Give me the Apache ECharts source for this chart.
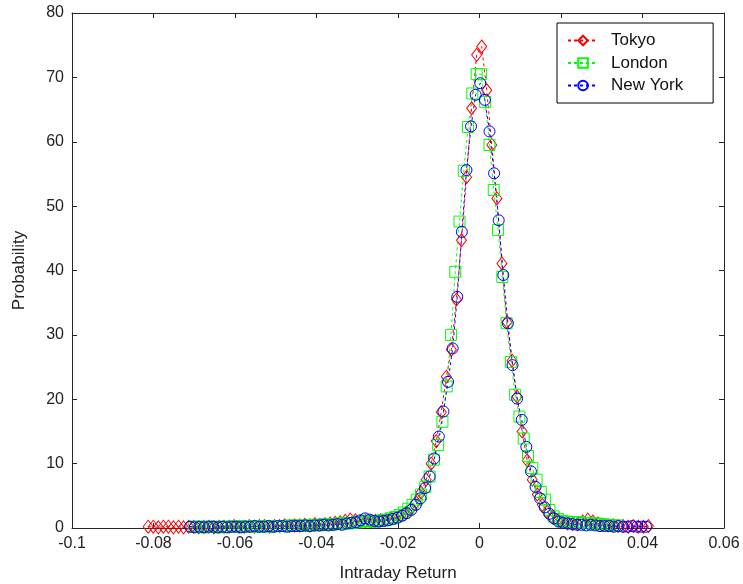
<!DOCTYPE html>
<html>
<head>
<meta charset="utf-8">
<script src="https://cdn.jsdelivr.net/npm/echarts@6/dist/echarts.min.js"></script>
<style>
  html, body { margin: 0; padding: 0; background: #fff; }
  #main { width: 743px; height: 584px; }
</style>
</head>
<body>
<div id="main"></div>
<script>
// histogram bins: first bin centre and bin width for each market
var tokyoStart = -0.0813, tokyoStep = 0.00124;
var londonStart = -0.0700, londonStep = 0.00105;
var nyStart = -0.0710, nyStep = 0.00113;

var tokyoValues = [
    0.2, 0.2, 0.1, 0.2, 0.2, 0.1, 0.2, 0.1, 0.2, 0.2,
    0.1, 0.2, 0.2, 0.1, 0.2, 0.2, 0.2, 0.3, 0.2, 0.2,
    0.3, 0.2, 0.3, 0.3, 0.2, 0.3, 0.3, 0.4, 0.3, 0.4,
    0.4, 0.5, 0.4, 0.6, 0.5, 0.6, 0.7, 0.8, 0.9, 1.1,
    1.3, 1.2, 1.0, 1.1, 1.0, 1.1, 1.2, 1.3, 1.5, 1.6,
    1.9, 2.3, 3.0, 4.0, 5.5, 7.5, 10.0, 13.5, 18.0, 23.5,
    27.7, 35.5, 44.7, 54.5, 65.2, 73.5, 74.8, 68.0, 59.5, 51.2,
    41.1, 32.0, 26.0, 20.4, 15.0, 10.5, 7.5, 5.2, 3.6, 2.5,
    1.7, 1.2, 0.9, 0.7, 0.6, 0.6, 1.0, 1.3, 1.0, 0.7,
    0.5, 0.4, 0.4, 0.3, 0.3, 0.2, 0.3, 0.2, 0.2, 0.3
];
var londonValues = [
    0.2, 0.2, 0.1, 0.2, 0.2, 0.2, 0.1, 0.2, 0.2, 0.2,
    0.2, 0.3, 0.2, 0.2, 0.3, 0.2, 0.3, 0.3, 0.2, 0.3,
    0.3, 0.3, 0.4, 0.3, 0.4, 0.4, 0.3, 0.4, 0.5, 0.4,
    0.5, 0.6, 0.5, 0.6, 0.7, 0.8, 0.7, 0.8, 0.9, 1.0,
    1.1, 1.0, 1.0, 1.1, 1.2, 1.3, 1.5, 1.7, 2.0, 2.4,
    3.0, 3.6, 4.4, 5.2, 6.4, 8.0, 10.6, 12.9, 16.5, 22.0,
    30.0, 39.8, 47.6, 55.5, 62.3, 67.5, 70.5, 70.5, 66.2, 59.5,
    52.5, 46.3, 39.0, 31.8, 25.8, 20.7, 17.3, 13.9, 11.2, 9.3,
    7.5, 5.6, 4.4, 2.8, 1.8, 1.4, 1.1, 1.0, 0.9, 0.9,
    0.9, 0.8, 0.8, 0.7, 0.7, 0.6, 0.5, 0.5, 0.4, 0.4
];
var nyValues = [
    0.2, 0.1, 0.2, 0.1, 0.2, 0.2, 0.1, 0.2, 0.1, 0.2,
    0.2, 0.1, 0.2, 0.2, 0.3, 0.2, 0.2, 0.3, 0.2, 0.3,
    0.3, 0.2, 0.3, 0.3, 0.3, 0.4, 0.3, 0.4, 0.4, 0.5,
    0.4, 0.5, 0.6, 0.5, 0.7, 0.8, 0.9, 1.2, 1.5, 1.3,
    1.1, 1.0, 1.1, 1.2, 1.4, 1.6, 1.9, 2.3, 2.8, 3.6,
    4.6, 6.2, 8.0, 10.8, 14.2, 18.1, 22.7, 27.9, 35.9, 46.0,
    55.6, 62.4, 67.3, 69.1, 66.5, 61.6, 55.1, 47.8, 39.3, 31.8,
    25.3, 20.1, 16.8, 12.6, 8.8, 6.4, 4.6, 3.2, 2.2, 1.5,
    1.0, 0.8, 0.7, 0.6, 0.5, 0.5, 0.4, 0.5, 0.4, 0.3,
    0.3, 0.3, 0.2, 0.3, 0.2, 0.2, 0.3, 0.2, 0.2, 0.2
];

var xTicks = { min: -0.1, max: 0.06, interval: 0.02 };
var yTicks = { min: 0, max: 80, interval: 10 };

var font = 'Liberation Sans';
var axisColor = '#262626';

function bins(start, step, values) {
    var out = [];
    for (var i = 0; i < values.length; i++) {
        out.push([start + i * step, values[i]]);
    }
    return out;
}

function makeSeries(name, color, symbol, size, data) {
    return {
        name: name,
        type: 'line',
        data: data,
        symbol: symbol,
        symbolSize: size,
        showAllSymbol: true,
        lineStyle: { color: color, width: 1, type: [3, 3] },
        itemStyle: { color: 'rgba(255,255,255,0)', borderColor: color, borderWidth: 1 },
        emphasis: { disabled: true }
    };
}

var myChart = echarts.init(document.getElementById('main'));

function tickFmt(v) {
    var r = +v.toFixed(2);
    return r === 0 ? '0' : String(r);
}

var option = {
    animation: false,
    backgroundColor: '#fff',
    grid: { left: 72, right: 19, top: 13, bottom: 56, outerBoundsMode: 'none' },
    legend: {
        left: 557, top: 23,
        orient: 'vertical',
        backgroundColor: '#fff',
        borderColor: '#000',
        borderWidth: 1,
        padding: [9, 30, 9, 10],
        itemWidth: 30,
        itemHeight: 12,
        itemGap: 5.5,
        textStyle: { fontFamily: font, fontSize: 17, color: '#111', padding: [0, 0, 0, 8] },
        data: ['Tokyo', 'London', 'New York']
    },
    xAxis: [{
        type: 'value',
        min: xTicks.min, max: xTicks.max, interval: xTicks.interval,
        name: 'Intraday Return',
        nameLocation: 'middle',
        nameGap: 37,
        nameTextStyle: { fontFamily: font, fontSize: 17, color: '#222' },
        axisLine: { onZero: false, lineStyle: { color: axisColor, width: 1 } },
        axisTick: { inside: true, length: 5, lineStyle: { color: axisColor } },
        axisLabel: { fontFamily: font, fontSize: 16, color: '#222', margin: 8, formatter: tickFmt },
        splitLine: { show: false }
    }, {
        type: 'value', position: 'top',
        min: xTicks.min, max: xTicks.max, interval: xTicks.interval,
        axisLine: { onZero: false, lineStyle: { color: axisColor, width: 1 } },
        axisTick: { inside: true, length: 5, lineStyle: { color: axisColor } },
        axisLabel: { show: false },
        splitLine: { show: false }
    }],
    yAxis: [{
        type: 'value',
        min: yTicks.min, max: yTicks.max, interval: yTicks.interval,
        name: 'Probability',
        nameLocation: 'middle',
        nameGap: 44,
        nameTextStyle: { fontFamily: font, fontSize: 17, color: '#222' },
        axisLine: { show: true, onZero: false, lineStyle: { color: axisColor, width: 1 } },
        axisTick: { show: true, inside: true, length: 5, lineStyle: { color: axisColor } },
        axisLabel: { fontFamily: font, fontSize: 16, color: '#222', margin: 8 },
        splitLine: { show: false }
    }, {
        type: 'value', position: 'right',
        min: yTicks.min, max: yTicks.max, interval: yTicks.interval,
        axisLine: { show: true, onZero: false, lineStyle: { color: axisColor, width: 1 } },
        axisTick: { show: true, inside: true, length: 5, lineStyle: { color: axisColor } },
        axisLabel: { show: false },
        splitLine: { show: false }
    }],
    series: [
        makeSeries('Tokyo', '#ff0000', 'diamond', [10, 13], bins(tokyoStart, tokyoStep, tokyoValues)),
        makeSeries('London', '#00ff00', 'rect', [11, 11], bins(londonStart, londonStep, londonValues)),
        makeSeries('New York', '#0000ff', 'circle', 11, bins(nyStart, nyStep, nyValues))
    ]
};
myChart.setOption(option, true);

window.onresize = function () {
    myChart.resize();
};
</script>
</body>
</html>
